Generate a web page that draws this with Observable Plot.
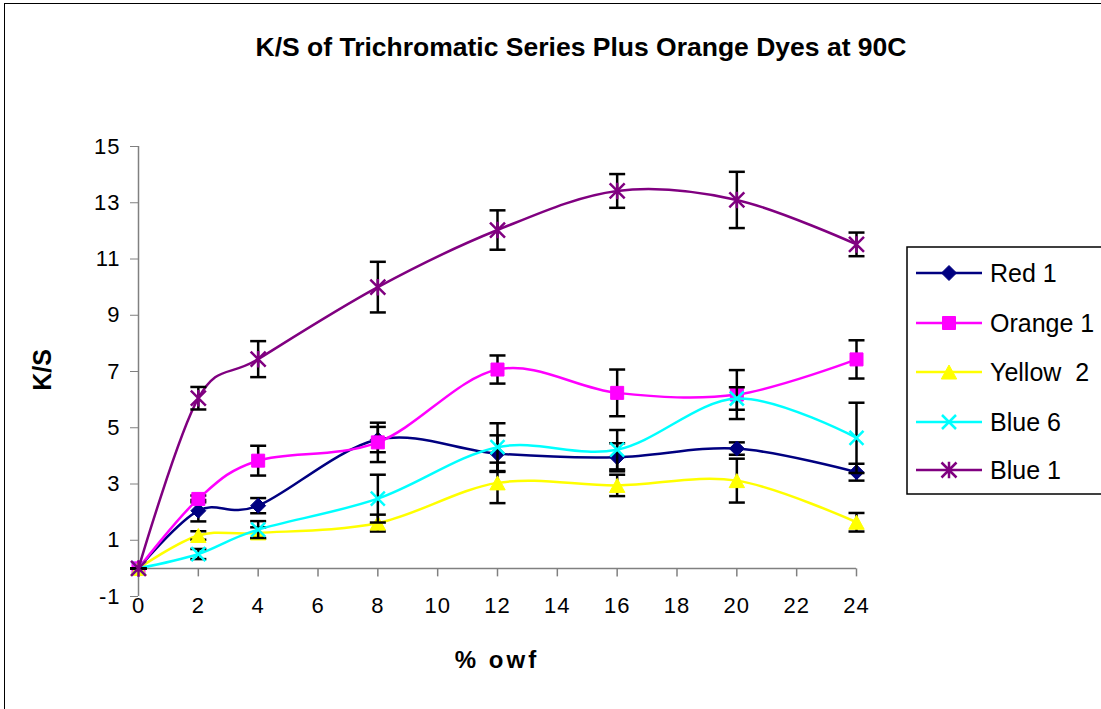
<!DOCTYPE html>
<html><head><meta charset="utf-8">
<script src="https://cdn.jsdelivr.net/npm/d3@7"></script>
<script src="https://cdn.jsdelivr.net/npm/@observablehq/plot@0.6"></script>
<style>
body{margin:0;background:#fff;}
#wrap{position:relative;width:1101px;height:709px;overflow:hidden;font-family:"Liberation Sans",Arial,sans-serif;background:#fff;}
#chart{position:absolute;left:0;top:0;}
#chart svg g[aria-label$="tick label"], #chart svg g[aria-label$="tick label"] text{font-size:22px !important;letter-spacing:1px;}
#frame{position:absolute;left:4px;top:3px;width:1200px;height:800px;border:1.5px solid #000;box-sizing:border-box;pointer-events:none;}
#title{position:absolute;left:0;width:1162px;top:31px;text-align:center;font-weight:bold;font-size:26.5px;line-height:32px;color:#000;}
#ylab{position:absolute;left:42px;top:370px;transform:translate(-50%,-50%) rotate(-90deg);font-weight:bold;font-size:25px;white-space:nowrap;}
#xlab{position:absolute;left:497px;top:660px;transform:translate(-50%,-50%);font-weight:bold;font-size:24px;letter-spacing:3px;white-space:pre;}
#legend{position:absolute;left:0;top:0;}
</style>
</head><body>
<div id="wrap">
  <div id="chart"></div>
  <div id="frame"></div>
  <div id="title">K/S of Trichromatic Series Plus Orange Dyes at 90C</div>
  <div id="ylab">K/S</div>
  <div id="xlab">% owf</div>
  <svg id="legend" width="1101" height="709"></svg>
</div>
<script>
// ---- data ----
const xValues = [0, 2, 4, 8, 12, 16, 20, 24];
const seriesNames = ["Red 1", "Orange 1", "Yellow  2", "Blue 6", "Blue 1"];
const seriesColors = ["#000080", "#FF00FF", "#FFFF00", "#00FFFF", "#800080"];
const red1 = [0, 2.05, 2.23, 4.58, 4.08, 3.95, 4.26, 3.42];
const red1Err = [0, 0.38, 0.27, 0.45, 0.65, 0.5, 0.22, 0.3];
const orange1 = [0, 2.47, 3.83, 4.48, 7.07, 6.24, 6.18, 7.43];
const orange1Err = [0, 0.12, 0.53, 0.7, 0.5, 0.83, 0.87, 0.68];
const yellow2 = [0, 1.17, 1.26, 1.61, 3.04, 2.95, 3.12, 1.64];
const yellow2Err = [0, 0.15, 0.2, 0.3, 0.72, 0.38, 0.78, 0.33];
const blue6 = [0, 0.51, 1.38, 2.48, 4.31, 4.22, 6.04, 4.64];
const blue6Err = [0, 0.18, 0.3, 0.85, 0.85, 0.7, 0.4, 1.25];
const blue1 = [0, 6.05, 7.44, 10.0, 12.03, 13.42, 13.1, 11.52];
const blue1Err = [0, 0.4, 0.64, 0.9, 0.7, 0.6, 1.0, 0.42];
const xTicks = [0, 2, 4, 6, 8, 10, 12, 14, 16, 18, 20, 22, 24];
const yTicks = [-1, 1, 3, 5, 7, 9, 11, 13, 15];

const seriesValues = [red1, orange1, yellow2, blue6, blue1];
const seriesErrs = [red1Err, orange1Err, yellow2Err, blue6Err, blue1Err];

// ---- symbols ----
const rad = s => Math.sqrt(s / Math.PI);
const symDiamond = {draw(c, s){const R = rad(s); c.moveTo(0,-R); c.lineTo(R,0); c.lineTo(0,R); c.lineTo(-R,0); c.closePath();}};
const symSquare = {draw(c, s){const R = rad(s); c.moveTo(-R,-R); c.lineTo(R,-R); c.lineTo(R,R); c.lineTo(-R,R); c.closePath();}};
const symTriangle = {draw(c, s){const R = rad(s); c.moveTo(0,-R); c.lineTo(R*1.1,R); c.lineTo(-R*1.1,R); c.closePath();}};
const symTimes = {draw(c, s){const R = rad(s); c.moveTo(-R,-R); c.lineTo(R,R); c.moveTo(R,-R); c.lineTo(-R,R);}};
const symStar = {draw(c, s){const R = rad(s); c.moveTo(-R,-R); c.lineTo(R,R); c.moveTo(R,-R); c.lineTo(-R,R); c.moveTo(0,-R*1.1); c.lineTo(0,R*1.1);}};
const symCap = {draw(c, s){const R = rad(s); c.moveTo(-R,0); c.lineTo(R,0);}};
const symTickDown = {draw(c, s){const R = rad(s); c.moveTo(0,0); c.lineTo(0,R);}};

const seriesSymbols = [symDiamond, symSquare, symTriangle, symTimes, symStar];
const seriesR = [7.5, 6.5, 7, 7, 7.5];
const seriesFilled = [true, true, true, false, false];

// ---- table ----
const rows = [];
seriesNames.forEach((name, i) => {
  xValues.forEach((x, j) => rows.push({series: name, x, y: seriesValues[i][j], err: seriesErrs[i][j]}));
});

const marks = [
  Plot.ruleY([0], {stroke: "#808080", strokeWidth: 1.5}),
  Plot.ruleX([0], {stroke: "#808080", strokeWidth: 1.5}),
  Plot.dot(xTicks, {x: d => d, y: () => 0, symbol: symTickDown, r: 8, stroke: "#808080", strokeWidth: 1.5, fill: "none"}),
  Plot.axisY({ticks: yTicks, tickSize: 8, tickPadding: 10, stroke: "#808080", fill: "black", fontSize: 22, label: null, tickFormat: d => String(d)}),
  Plot.axisX({ticks: xTicks, tickSize: 0, tickPadding: 1, fill: "black", fontSize: 22, label: null, tickFormat: d => String(d)})
];

seriesNames.forEach((name, i) => {
  const data = rows.filter(r => r.series === name);
  const col = seriesColors[i];
  marks.push(
    Plot.line(data, {x: "x", y: "y", stroke: col, strokeWidth: 2.5, curve: "cardinal", tension: 0}),
    Plot.ruleX(data, {x: "x", y1: d => d.y - d.err, y2: d => d.y + d.err, stroke: "black", strokeWidth: 2.5}),
    Plot.dot(data, {x: "x", y: d => d.y + d.err, symbol: symCap, r: 8, stroke: "black", strokeWidth: 2.5, fill: "none"}),
    Plot.dot(data, {x: "x", y: d => d.y - d.err, symbol: symCap, r: 8, stroke: "black", strokeWidth: 2.5, fill: "none"}),
    Plot.dot(data, {x: "x", y: "y", symbol: seriesSymbols[i], r: seriesR[i],
      fill: seriesFilled[i] ? col : "none", stroke: col, strokeWidth: seriesFilled[i] ? 1 : 2.5})
  );
});

const plot = Plot.plot({
  width: 1101,
  height: 709,
  marginLeft: 138,
  marginRight: 245,
  marginTop: 146,
  marginBottom: 113,
  x: {domain: [0, 24], axis: null},
  y: {domain: [-1, 15], axis: null},
  style: {fontFamily: '"Liberation Sans", Arial, sans-serif', fontSize: "22px", background: "white", overflow: "visible", color: "black"},
  marks
});
document.getElementById("chart").appendChild(plot);

// ---- legend ----
const lg = d3.select("#legend");
lg.append("rect").attr("x", 907).attr("y", 247).attr("width", 260).attr("height", 247)
  .attr("fill", "white").attr("stroke", "#000").attr("stroke-width", 1.5);
const rowY = [273, 323, 372, 422, 470];
seriesNames.forEach((name, i) => {
  const y = rowY[i], col = seriesColors[i];
  lg.append("line").attr("x1", 916).attr("x2", 982).attr("y1", y).attr("y2", y)
    .attr("stroke", col).attr("stroke-width", 2.5);
  const R = seriesR[i];
  lg.append("path").attr("transform", `translate(949,${y})`)
    .attr("d", d3.symbol(seriesSymbols[i], R * R * Math.PI)())
    .attr("fill", seriesFilled[i] ? col : "none").attr("stroke", col)
    .attr("stroke-width", seriesFilled[i] ? 1 : 2.5);
  lg.append("text").attr("x", 990).attr("y", y).attr("dy", "0.36em")
    .attr("font-family", '"Liberation Sans", Arial, sans-serif').attr("font-size", 25)
    .attr("xml:space", "preserve").style("white-space", "pre")
    .attr("fill", "black").text(name);
});
</script>
</body></html>
